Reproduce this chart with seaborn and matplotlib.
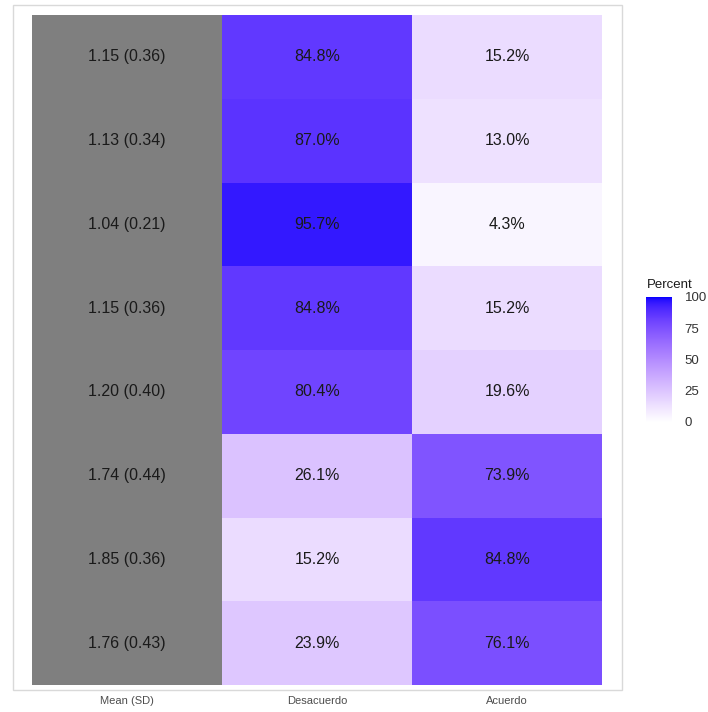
import numpy as np
import pandas as pd
import matplotlib
matplotlib.use("Agg")
import matplotlib.pyplot as plt
from matplotlib.colors import ListedColormap
from matplotlib.patches import Rectangle
import seaborn as sns

# ---- data -------------------------------------------------------------
items = ["P1", "P2", "P3", "P4", "P5", "P6", "P7", "P8"]
columns = ["Mean (SD)", "Desacuerdo", "Acuerdo"]
mean_sd = ["1.15 (0.36)", "1.13 (0.34)", "1.04 (0.21)", "1.15 (0.36)",
           "1.20 (0.40)", "1.74 (0.44)", "1.85 (0.36)", "1.76 (0.43)"]
desacuerdo = [84.8, 87.0, 95.7, 84.8, 80.4, 26.1, 15.2, 23.9]
acuerdo = [15.2, 13.0, 4.3, 15.2, 19.6, 73.9, 84.8, 76.1]
cbar_ticks = [0, 25, 50, 75, 100]

plt.rcParams["font.family"] = ["Liberation Sans", "DejaVu Sans"]


# ---- white -> blue gradient interpolated in CIE Lab --------------------
def srgb_to_lab(rgb):
    rgb = np.asarray(rgb, float)
    lin = np.where(rgb <= 0.04045, rgb / 12.92, ((rgb + 0.055) / 1.055) ** 2.4)
    M = np.array([[0.4124, 0.3576, 0.1805],
                  [0.2126, 0.7152, 0.0722],
                  [0.0193, 0.1192, 0.9505]])
    xyz = M @ lin
    wp = np.array([0.95047, 1.0, 1.08883])
    t = xyz / wp
    f = np.where(t > (6 / 29) ** 3, np.cbrt(t), t / (3 * (6 / 29) ** 2) + 4 / 29)
    return np.array([116 * f[1] - 16, 500 * (f[0] - f[1]), 200 * (f[1] - f[2])])


def lab_to_srgb(lab):
    L, a, b = lab
    fy = (L + 16) / 116
    fx = fy + a / 500
    fz = fy - b / 200
    f = np.array([fx, fy, fz])
    t = np.where(f > 6 / 29, f ** 3, 3 * (6 / 29) ** 2 * (f - 4 / 29))
    xyz = t * np.array([0.95047, 1.0, 1.08883])
    Minv = np.array([[3.2406, -1.5372, -0.4986],
                     [-0.9689, 1.8758, 0.0415],
                     [0.0557, -0.2040, 1.0570]])
    lin = np.clip(Minv @ xyz, 0, 1)
    rgb = np.where(lin <= 0.0031308, 12.92 * lin, 1.055 * lin ** (1 / 2.4) - 0.055)
    return np.clip(rgb, 0, 1)


lab_lo = srgb_to_lab([1, 1, 1])
lab_hi = srgb_to_lab([0, 0, 1])
grad = [lab_to_srgb(lab_lo + (lab_hi - lab_lo) * s) for s in np.linspace(0, 1, 256)]
cmap_pct = ListedColormap(grad)

# ---- tables ------------------------------------------------------------
values = pd.DataFrame({"Mean (SD)": np.zeros(len(items)),
                       "Desacuerdo": desacuerdo,
                       "Acuerdo": acuerdo}, index=items)[columns]
labels = pd.DataFrame({"Mean (SD)": mean_sd,
                       "Desacuerdo": [f"{v:.1f}%" for v in desacuerdo],
                       "Acuerdo": [f"{v:.1f}%" for v in acuerdo]}, index=items)[columns]

mask_pct = np.zeros(values.shape, bool)
mask_pct[:, 0] = True
mask_mean = ~mask_pct

# ---- figure ------------------------------------------------------------
W, H = 708, 712
fig = plt.figure(figsize=(W / 100, H / 100), dpi=100)
fig.patch.set_facecolor("white")

# panel border
fig.add_artist(Rectangle((13 / W, 1 - 690 / H), (622 - 13) / W, (690 - 5) / H,
                         transform=fig.transFigure, fill=False,
                         edgecolor="#d9d9d9", linewidth=1.0))

ax = fig.add_axes([32 / W, 1 - 685 / H, (602 - 32) / W, (685 - 15) / H])
cax = fig.add_axes([646 / W, 1 - 422 / H, 26 / W, 125 / H])

annot_kws = {"fontsize": 11.5, "color": "#1a1a1a"}
sns.heatmap(values, mask=mask_pct, cmap=cmap_pct, vmin=0, vmax=100,
            annot=labels.values, fmt="", annot_kws=annot_kws,
            cbar=True, cbar_ax=cax, ax=ax, linewidths=0)
sns.heatmap(values, mask=mask_mean, cmap=ListedColormap(["#7f7f7f"]),
            annot=labels.values, fmt="", annot_kws=annot_kws,
            cbar=False, ax=ax, linewidths=0)

for t in ax.texts:
    t.set_color("#1a1a1a")

ax.set_xlabel("")
ax.set_ylabel("")
ax.set_yticks([])
ax.set_xticklabels(columns, rotation=0, fontsize=8, color="#4d4d4d")
ax.tick_params(axis="x", length=0, pad=8)
for s in ax.spines.values():
    s.set_visible(False)

# colorbar styling
cax.set_yticks(cbar_ticks)
cax.set_yticklabels([str(v) for v in cbar_ticks])
cax.tick_params(labelsize=9.5, length=0, pad=9, colors="#333333")
cax.yaxis.set_ticks_position("right")
for s in cax.spines.values():
    s.set_visible(False)
fig.text(647 / W, 1 - 285 / H, "Percent", fontsize=9.5, color="#1a1a1a",
         ha="left", va="center")

fig.savefig("out.png", dpi=100)
